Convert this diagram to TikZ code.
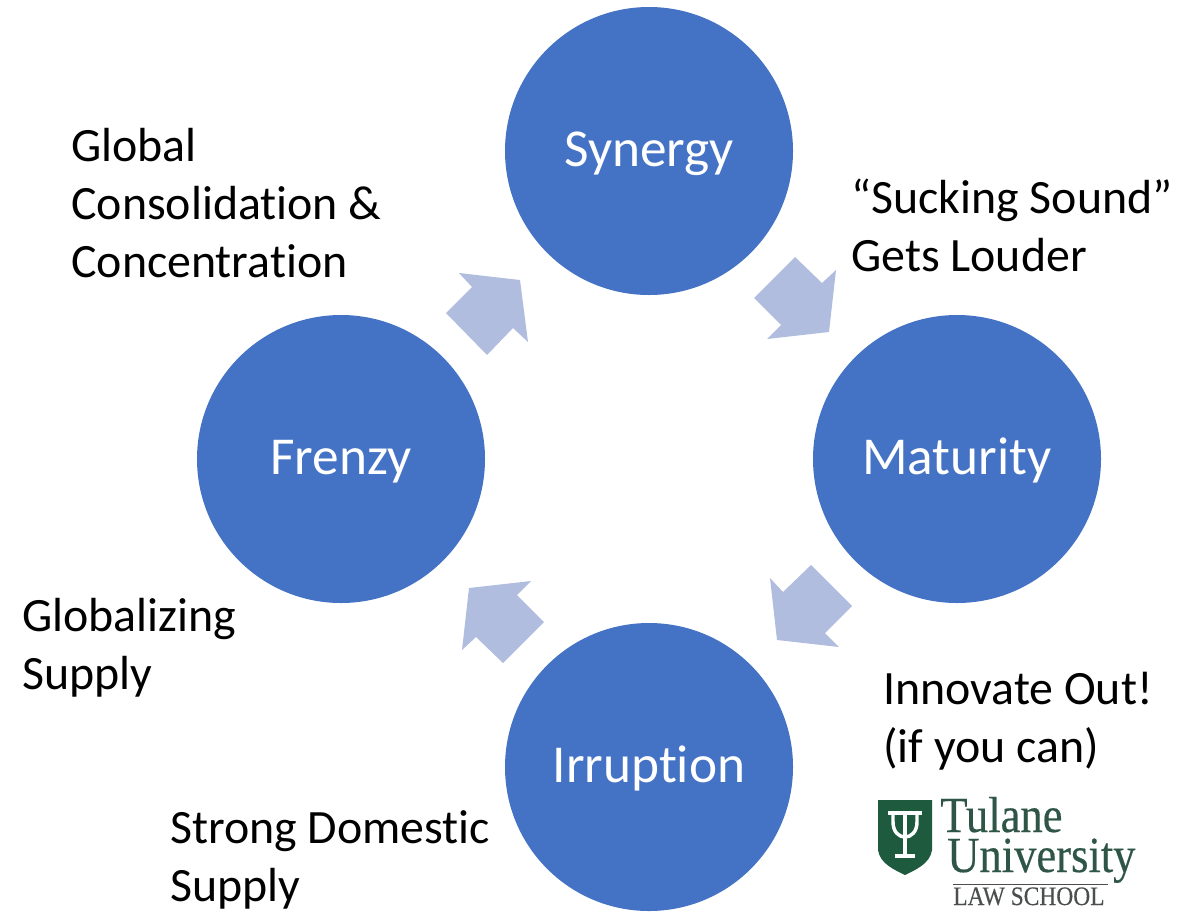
\documentclass[tikz,border=0pt]{standalone}
\usepackage{fontspec}
\setmainfont[Ligatures=NoCommon]{Carlito}
\newfontfamily\logofont[FakeStretch=0.88,FakeBold=0.3]{Liberation Serif}
\definecolor{circleblue}{HTML}{4472C4}
\definecolor{arrowblue}{HTML}{B0BDDF}
\definecolor{logogreen}{HTML}{1E5B3E}
\definecolor{logotextcol}{HTML}{2F5547}
\definecolor{logogray}{HTML}{4A4F4C}
\begin{document}
\begin{tikzpicture}[x=0.75pt,y=0.75pt,yscale=-1,xscale=1,
	phase/.style={circle,fill=circleblue,draw=none,minimum size=216pt,inner sep=0pt,text=white,text height=31pt,text depth=7.4pt,font=\fontsize{40}{48}\selectfont},
	blockarrow/.style={fill=arrowblue,draw=none},
	lbl/.style={anchor=base west,inner sep=0pt,align=left,font=\fontsize{35.9}{43.5}\selectfont},
	logotext/.style={anchor=base west,inner sep=0pt,text=logotextcol}]
\useasboundingbox (0,0) rectangle (1180,911);

%Shape: Circles
	\node [phase] (synergy) at (649,151) {Synergy};
	\node [phase] (maturity) at (957,459) {Maturity};
	\node [phase] (frenzy) at (341,459) {Frenzy};
	\node [phase] (irruption) at (649,767) {Irruption};

%Shape: Block arrows
	\fill [blockarrow] (795,257) -- (822,283) -- (836,270) -- (829,332) -- (767,339) -- (781,325) -- (754,298) -- cycle ;
	\fill [blockarrow] (811,565) -- (852,606) -- (825,633) -- (839,647) -- (777,640) -- (770,578) -- (783,592) -- cycle ;
	\fill [blockarrow] (544,622) -- (503,663) -- (476,637) -- (462,650) -- (469,588) -- (531,581) -- (517,595) -- cycle ;
	\fill [blockarrow] (487,355) -- (446,313) -- (472,287) -- (459,273) -- (520,280) -- (528,342) -- (513,328) -- cycle ;

% Text Node
	\node [lbl] (consolidation) at (71,277) {Global\\Consolidation \&\\Concentration};
% Text Node
	\node [lbl] (sucking) at (851,271) {“Sucking Sound”\\Gets Louder};
% Text Node
	\node [lbl] (globalizing) at (22,689) {Globalizing\\Supply};
% Text Node
	\node [lbl] (innovate) at (883,762) {Innovate Out!\\(if you can)};
% Text Node
	\node [lbl] (domestic) at (170,901) {Strong Domestic\\Supply};

%Shape: Logo
	\fill [logogreen] (878,800) -- (932,800) -- (932,850) .. controls (930,864) and (915,870) .. (905,875) .. controls (895,870) and (880,864) .. (878,850) -- cycle ;
	\draw [white,line width=3] (888,813) -- (922,813) ;
	\draw [white,line width=3.4] (905,813) -- (905,857) ;
	\draw [white,line width=3] (895,856) -- (915,856) ;
	\draw [white,line width=2.6] (893,813) -- (893,822) .. controls (893,842) and (917,842) .. (917,822) -- (917,813) ;
	\draw [logogray,line width=0.6] (953,884) -- (1108,884) ;
	\node [logotext,align=left,font=\logofont\fontsize{38}{30}\selectfont] (tulane) at (940,872) {Tulane\\\hspace*{5.25pt}University};
	\node [logotext,text=logogray] (lawschool) at (953,905) {\logofont\fontsize{20}{20}\selectfont LAW SCHOOL};
\end{tikzpicture}
\end{document}
